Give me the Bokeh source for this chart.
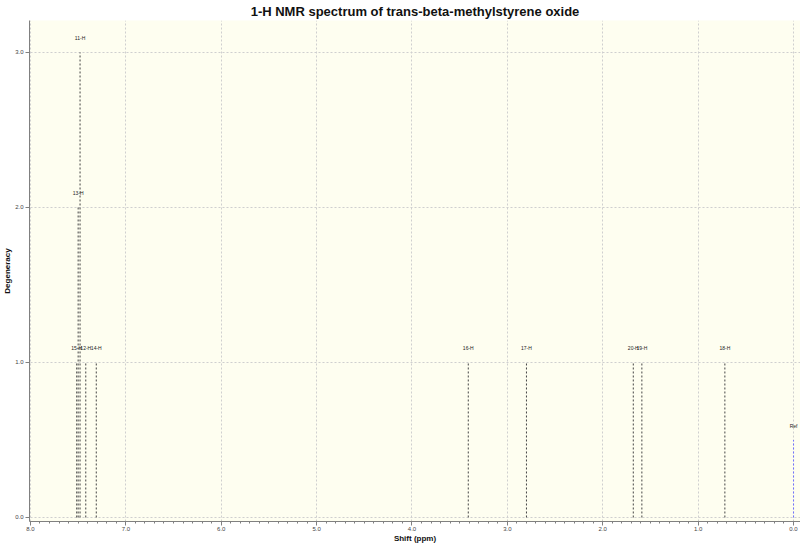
from bokeh.plotting import figure
from bokeh.models import Range1d, SingleIntervalTicker, FixedTicker, PrintfTickFormatter, ColumnDataSource
from bokeh.core.properties import value
from bokeh.embed import file_html
from bokeh.resources import INLINE

# ---- data ----
labels = ["11-H", "13-H", "15-H", "12-H", "14-H", "16-H", "17-H", "20-H", "19-H", "18-H"]
shifts = [7.48, 7.50, 7.515, 7.42, 7.31, 3.41, 2.80, 1.68, 1.59, 0.72]
degeneracy = [3, 2, 1, 1, 1, 1, 1, 1, 1, 1]
ref_label = ["Ref"]
ref_shift = [0.0]
ref_height = [0.5]
x_ticks_interval = 1.0
y_ticks = [0, 1, 2, 3]

FONT = "Liberation Sans"

p = figure(width=800, height=551,
           x_range=Range1d(8.01, -0.073), y_range=Range1d(-0.026, 3.206),
           output_backend="svg", toolbar_location=None,
           min_border_left=22, min_border_right=0, min_border_top=0, min_border_bottom=30,
           title="1-H NMR spectrum of trans-beta-methylstyrene oxide",
           background_fill_color="#fefef0", border_fill_color="white",
           outline_line_color=None)

p.title.align = "center"
p.title.text_font = FONT
p.title.text_font_size = "13px"
p.title.text_font_style = "bold"
p.title.text_color = "#111111"
p.title.standoff = 3

p.xaxis.ticker = SingleIntervalTicker(interval=x_ticks_interval, num_minor_ticks=10)
p.xgrid.ticker = SingleIntervalTicker(interval=x_ticks_interval)
p.yaxis.ticker = FixedTicker(ticks=y_ticks)
p.ygrid.ticker = FixedTicker(ticks=y_ticks)

for ax in (p.xaxis[0], p.yaxis[0]):
    ax.formatter = PrintfTickFormatter(format="%.1f")
    ax.axis_line_color = "#808080"
    ax.major_tick_line_color = "#808080"
    ax.minor_tick_line_color = "#808080"
    ax.major_tick_in = 0
    ax.major_tick_out = 4
    ax.minor_tick_in = 0
    ax.minor_tick_out = 2
    ax.major_label_text_font = FONT
    ax.major_label_text_font_size = "6px"
    ax.major_label_text_color = "#444444"
    ax.major_label_standoff = 2
    ax.axis_label_text_font = FONT
    ax.axis_label_text_font_size = "8px"
    ax.axis_label_text_font_style = "bold"
    ax.axis_label_text_color = "#111111"
    ax.axis_label_standoff = 2

p.xaxis.major_label_standoff = 1
p.xaxis.axis_label_standoff = 0
p.yaxis.axis_label_standoff = 0
p.yaxis.minor_tick_line_color = None
p.xaxis.axis_label = "Shift (ppm)"
p.yaxis.axis_label = "Degeneracy"

for g in (p.xgrid[0], p.ygrid[0]):
    g.grid_line_color = "#cfcfcf"
    g.grid_line_dash = "2 2"
    g.grid_line_width = 1

src = ColumnDataSource(dict(x=shifts, h=degeneracy, lab=labels, z=[0] * len(shifts)))
p.segment(x0="x", y0="z", x1="x", y1="h", source=src, line_color="#444444",
          line_dash="2 2", line_width=1)
p.text(x="x", y="h", text="lab", source=src, y_offset=-14,
       text_font=value(FONT), text_font_size="5px", text_align="center",
       text_baseline="middle", text_color="#222222")

rsrc = ColumnDataSource(dict(x=ref_shift, h=ref_height, lab=ref_label, z=[0]))
p.segment(x0="x", y0="z", x1="x", y1="h", source=rsrc, line_color="#7070ff",
          line_dash="2 2", line_width=1)
p.text(x="x", y="h", text="lab", source=rsrc, y_offset=-14,
       text_font=value(FONT), text_font_size="5px", text_align="center",
       text_baseline="middle", text_color="#222222")

html = file_html(p, INLINE)
html = html.replace("<head>", "<head><style>html,body{overflow:hidden;}</style>", 1)
open("out.html", "w").write(html)
